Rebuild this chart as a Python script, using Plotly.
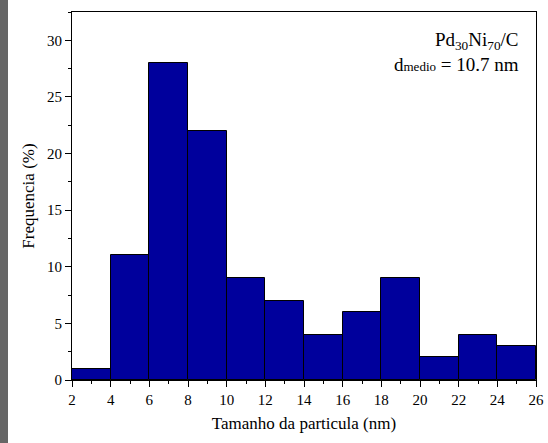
import plotly.graph_objects as go

bin_centers = [3, 5, 7, 9, 11, 13, 15, 17, 19, 21, 23, 25]
frequencies = [1, 11, 28, 22, 9, 7, 4, 6, 9, 2, 4, 3]
x_ticks = list(range(2, 27, 2))
y_ticks = [0, 5, 10, 15, 20, 25, 30]

FONT = "Liberation Serif, Times New Roman, serif"

fig = go.Figure(go.Bar(
    x=bin_centers, y=frequencies, width=2,
    marker=dict(color="#00009C", line=dict(color="black", width=1)),
))

axis_common = dict(
    showline=True, linecolor="black", linewidth=1, mirror=True,
    ticks="outside", ticklen=6, tickwidth=1, tickcolor="black",
    showgrid=False, zeroline=False, automargin=False,
    tickfont=dict(family=FONT, size=15, color="black"),
)

fig.update_xaxes(
    range=[2, 26], tickvals=x_ticks,
    minor=dict(ticks="outside", ticklen=3, dtick=1, tickcolor="black", showgrid=False),
    title=dict(text="Tamanho da particula (nm)", font=dict(family=FONT, size=17, color="black"), standoff=10),
    **axis_common,
)
fig.update_yaxes(
    range=[0, 32.5], tickvals=y_ticks,
    minor=dict(ticks="outside", ticklen=3, dtick=2.5, tickcolor="black", showgrid=False),
    title=dict(text="Frequencia (%)", font=dict(family=FONT, size=17, color="black"), standoff=8),
    **axis_common,
)

fig.add_annotation(
    xref="paper", yref="paper", x=0.968, y=0.96, xanchor="right", yanchor="top",
    text="Pd<sub>30</sub>Ni<sub>70</sub>/C<br>d<span style='font-size:13px'>medio</span> = 10.7 nm",
    showarrow=False, align="right",
    font=dict(family=FONT, size=19, color="black"),
)

PW, PH = 464, 368
fig.add_shape(type="rect", xref="paper", yref="paper",
              x0=-72/PW, x1=-64/PW, y0=-63/PH, y1=1 + 12/PH,
              fillcolor="#666666", line=dict(width=0), layer="above")

fig.update_layout(
    width=548, height=443,
    margin=dict(l=72, r=12, t=12, b=63, autoexpand=False),
    paper_bgcolor="white", plot_bgcolor="white",
    showlegend=False, bargap=0,
    font=dict(family=FONT, color="black"),
)

fig.write_html("out.html", config={"displayModeBar": False},
               post_script="document.body.style.margin='0';")
